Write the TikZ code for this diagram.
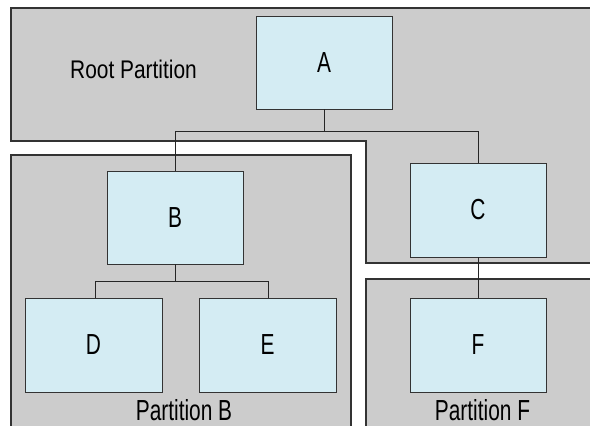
\documentclass[tikz,border=0pt]{standalone}
\usepackage{fontspec}
\setmainfont{Liberation Sans}
\definecolor{partgray}{HTML}{CCCCCC}
\definecolor{nodeblue}{HTML}{D4ECF3}
\definecolor{edgedark}{HTML}{333333}
\newcommand{\lbl}[3]{\scalebox{#1}[1]{\fontsize{#2}{#2}\selectfont #3}}
\begin{document}
\begin{tikzpicture}[x=1pt,y=-1pt,
  partition/.style={fill=partgray,draw=edgedark,line width=1.1pt},
  blk/.style={rectangle,fill=nodeblue,draw=edgedark,line width=0.9pt,
    minimum width=136pt,minimum height=93pt,inner sep=0pt,anchor=center},
  conn/.style={draw=black!85,line width=0.9pt}]
\useasboundingbox (0,0) rectangle (590,426);
\fill[white] (0,0) rectangle (590,426);
% partitions
\draw[partition] (11,8) -- (596,8) -- (596,263) -- (366,263) -- (366,141) -- (11,141) -- cycle;
\draw[partition] (11,155) rectangle (351,432);
\draw[partition] (366,279) rectangle (596,432);
% labels
\node[anchor=base,inner sep=0pt] (lroot) at (133.5,78) {\lbl{0.82}{25.5}{Root Partition}};
\node[anchor=base,inner sep=0pt] (lb) at (184,420.5) {\lbl{0.72}{29}{Partition B}};
\node[anchor=base,inner sep=0pt] (lf) at (482.5,420.5) {\lbl{0.72}{29}{Partition F}};
% blocks
\node[blk] (A) at (324,62.5) {\lbl{0.72}{29}{A}};
\node[blk] (B) at (175,217.5) {\lbl{0.72}{29}{B}};
\node[blk,minimum height=94pt] (C) at (478,210) {\lbl{0.72}{29}{C}};
\node[blk,minimum width=137pt,minimum height=94pt] (D) at (93.5,345) {\lbl{0.72}{29}{D}};
\node[blk,minimum width=137pt,minimum height=94pt] (E) at (267.5,345) {\lbl{0.72}{29}{E}};
\node[blk,minimum height=94pt] (F) at (478,345) {\lbl{0.72}{29}{F}};
% connectors
\coordinate (jA) at (324,131);
\coordinate (jB) at (175,281);
\draw[conn] (A.south) -- (jA);
\draw[conn] (jA) -| (B.north);
\draw[conn] (jA) -| (C.north);
\draw[conn] (B.south) -- (jB);
\draw[conn] (jB) -| ([xshift=1.5pt]D.north);
\draw[conn] (jB) -| ([xshift=0.5pt]E.north);
\draw[conn] (C.south) -- (F.north);
\end{tikzpicture}
\end{document}
